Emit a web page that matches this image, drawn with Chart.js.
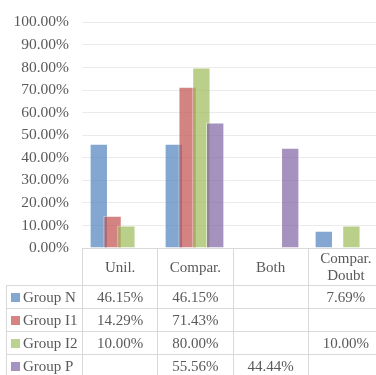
<!DOCTYPE html>
<html>
<head>
<meta charset="utf-8">
<script src="https://cdn.jsdelivr.net/npm/chart.js@4.4.1/dist/chart.umd.min.js"></script>
<style>
  body { margin: 0; width: 376px; height: 375px; overflow: hidden; background: #fff; position: relative; }
  #chart { position: absolute; left: 0; top: 0; }
  #datatable {
    position: absolute; left: 6px; top: 248px; width: 377px;
    border-collapse: collapse; table-layout: fixed;
    font-family: "Liberation Serif", "Times New Roman", serif; font-size: 15px; color: #595959;
  }
  #datatable td { border: 1px solid #d9d9d9; padding: 0; text-align: center; height: 22px; line-height: 15px; white-space: nowrap; }
  #datatable tr.head td { height: 36px; line-height: 17px; }
  #datatable tr.head td.blank { border-left: none; border-top: none; }
  #datatable td.name { text-align: left; padding-left: 4px; }
  .key { display: inline-block; width: 9px; height: 9px; margin-right: 3px; vertical-align: 0px; }
</style>
</head>
<body>
<canvas id="chart" width="400" height="375"></canvas>
<table id="datatable"></table>
<script>
// ✅ Chart data
const categories = ["Unil.", "Compar.", "Both", ["Compar.", "Doubt"]];
const seriesNames = ["Group N", "Group I1", "Group I2", "Group P"];
const groupN = [46.15, 46.15, null, 7.69];
const groupI1 = [14.29, 71.43, null, null];
const groupI2 = [10.00, 80.00, null, 10.00];
const groupP = [null, 55.56, 44.44, null];
const yTicks = [0, 10, 20, 30, 40, 50, 60, 70, 80, 90, 100];

const seriesValues = [groupN, groupI1, groupI2, groupP];
const fillColors = ["rgba(79,129,189,0.7)", "rgba(192,80,77,0.7)", "rgba(155,187,89,0.7)", "rgba(128,100,162,0.7)"];
const keyColors = ["#84a7d1", "#d58483", "#bcd38f", "#a593c0"];

const fmt = v => v.toFixed(2) + "%";

// Excel draws later series on top, Chart.js does the reverse by default
const drawForward = {
    id: "drawForward",
    beforeDatasetsDraw(chart) {
        const { ctx, chartArea } = chart;
        ctx.save();
        ctx.beginPath();
        ctx.rect(chartArea.left, chartArea.top, chartArea.width, chartArea.height);
        ctx.clip();
        chart.getSortedVisibleDatasetMetas().forEach(meta => meta.controller.draw());
        ctx.restore();
        return false;
    }
};

const ctx = document.getElementById("chart").getContext("2d");
new Chart(ctx, {
    type: "bar",
    data: {
        labels: categories,
        datasets: seriesValues.map((vals, i) => ({
            label: seriesNames[i],
            data: vals,
            backgroundColor: fillColors[i],
            borderColor: "rgba(255,255,255,0.55)",
            borderWidth: 1,
            categoryPercentage: 0.736,
            barPercentage: 1.33
        }))
    },
    options: {
        responsive: false,
        devicePixelRatio: 1,
        animation: false,
        layout: { padding: { left: 0, right: 18, top: 17, bottom: 127 } },
        plugins: { legend: { display: false }, tooltip: { enabled: false } },
        scales: {
            x: { display: false },
            y: {
                min: 0,
                max: 100,
                afterFit: scale => { scale.width = 82; },
                afterBuildTicks: scale => { scale.ticks = yTicks.map(v => ({ value: v })); },
                border: { display: false },
                grid: { color: "#ebebeb", drawTicks: false },
                ticks: {
                    padding: 13,
                    color: "#595959",
                    font: { family: "'Liberation Serif', 'Times New Roman', serif", size: 15.5 },
                    callback: v => fmt(v)
                }
            }
        }
    },
    plugins: [drawForward]
});

// ✅ Data table under the plot
const table = document.getElementById("datatable");
let html = '<colgroup><col style="width:76px">' + categories.map(() => '<col style="width:75.25px">').join("") + "</colgroup>";
html += '<tr class="head"><td class="blank"></td>' +
    categories.map(c => "<td>" + (Array.isArray(c) ? c.join("<br>") : c) + "</td>").join("") + "</tr>";
seriesNames.forEach((name, i) => {
    html += '<tr><td class="name"><span class="key" style="background:' + keyColors[i] + '"></span>' + name + "</td>" +
        seriesValues[i].map(v => "<td>" + (v === null ? "" : fmt(v)) + "</td>").join("") + "</tr>";
});
table.innerHTML = html;
</script>
</body>
</html>
